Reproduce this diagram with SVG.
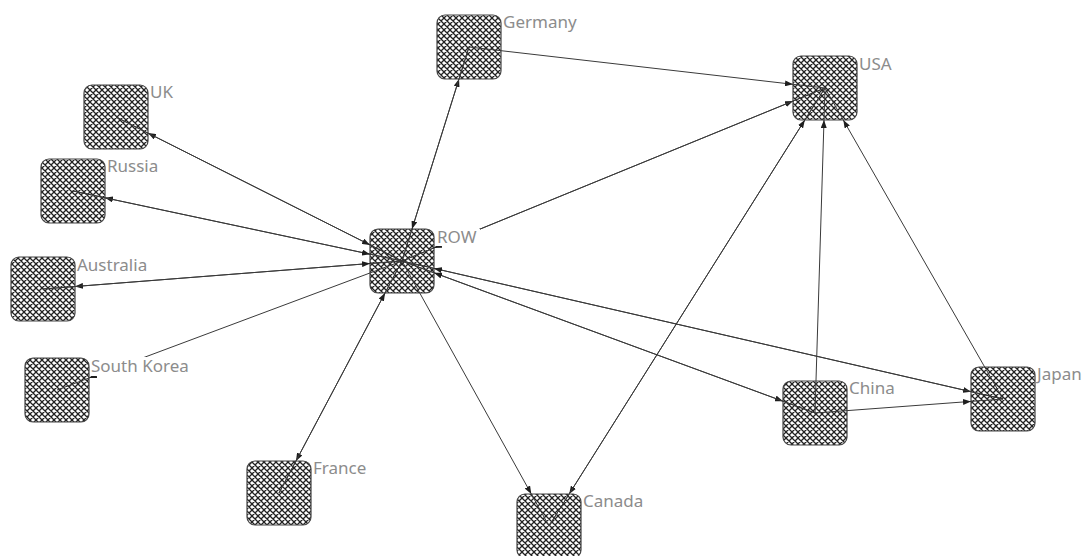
<svg xmlns="http://www.w3.org/2000/svg" width="1086" height="556" viewBox="0 0 1086 556">
  <style>
    .box { fill: url(#hatch); stroke: #444444; stroke-width: 1.2; }
    .label { font-family: "Noto Sans", "Liberation Sans", sans-serif; font-size: 17px; fill: #8c8c8c; }
    .edge { fill: none; stroke: #3a3a3a; stroke-width: 1; marker-mid: url(#arrow); }
  </style>
  <defs>
    <pattern id="hatch" patternUnits="userSpaceOnUse" width="6" height="6">
      <rect width="6" height="6" fill="#ffffff"/>
      <path d="M0,0 L6,6 M6,0 L0,6 M-1,5 L1,7 M5,-1 L7,1 M-1,1 L1,-1 M5,7 L7,5" stroke="#222222" stroke-width="1.3"/>
    </pattern>
    <marker id="arrow" viewBox="0 0 8 6" refX="8" refY="3" markerWidth="8" markerHeight="6" markerUnits="userSpaceOnUse" orient="auto">
      <path d="M0,0 L8,3 L0,6 Z" fill="#1e1e1e"/>
    </marker>
    <mask id="labelMask" maskUnits="userSpaceOnUse" x="0" y="0" width="1086" height="556">
      <rect x="0" y="0" width="1086" height="556" fill="#fff"/>
      <rect x="89" y="357" width="102" height="19" fill="#000"/>
      <rect x="436" y="229" width="44" height="17" fill="#000"/>
      <rect x="501" y="13" width="77" height="19" fill="#000"/>
      <rect x="857" y="55" width="37" height="19" fill="#000"/>
      <rect x="148" y="83" width="26" height="19" fill="#000"/>
      <rect x="105" y="157" width="55" height="19" fill="#000"/>
      <rect x="76" y="256" width="74" height="19" fill="#000"/>
      <rect x="311" y="459" width="58" height="19" fill="#000"/>
      <rect x="581" y="492" width="64" height="19" fill="#000"/>
      <rect x="847" y="379" width="49" height="19" fill="#000"/>
      <rect x="1035" y="365" width="49" height="19" fill="#000"/>
    </mask>
  </defs>
  <rect width="1086" height="556" fill="#ffffff"/>

  <g id="node-germany"><rect class="box" x="437" y="15" width="64" height="64" rx="8"/><text class="label" x="503" y="28">Germany</text></g>
  <g id="node-usa"><rect class="box" x="793" y="56" width="64" height="64" rx="8"/><text class="label" x="859" y="70">USA</text></g>
  <g id="node-uk"><rect class="box" x="84" y="85" width="64" height="64" rx="8"/><text class="label" x="150" y="98">UK</text></g>
  <g id="node-russia"><rect class="box" x="41" y="159" width="64" height="64" rx="8"/><text class="label" x="107" y="172">Russia</text></g>
  <g id="node-row"><rect class="box" x="370" y="229" width="64" height="64" rx="8"/><text class="label" x="437" y="243">ROW</text></g>
  <g id="node-australia"><rect class="box" x="11" y="257" width="64" height="64" rx="8"/><text class="label" x="77" y="271">Australia</text></g>
  <g id="node-south-korea"><rect class="box" x="25" y="358" width="64" height="64" rx="8"/><text class="label" x="91" y="372">South Korea</text></g>
  <g id="node-france"><rect class="box" x="247" y="461" width="64" height="64" rx="8"/><text class="label" x="313" y="474">France</text></g>
  <g id="node-canada"><rect class="box" x="517" y="494" width="64" height="64" rx="8"/><text class="label" x="583" y="507">Canada</text></g>
  <g id="node-china"><rect class="box" x="783" y="381" width="64" height="64" rx="8"/><text class="label" x="849" y="394">China</text></g>
  <g id="node-japan"><rect class="box" x="971" y="367" width="64" height="64" rx="8"/><text class="label" x="1037" y="380">Japan</text></g>

  <g id="connectors" mask="url(#labelMask)">
    <path class="edge" d="M402,261 L148,133.1 L116,117"/>
    <path class="edge" d="M116,117 L370,244.9 L402,261"/>
    <path class="edge" d="M402,261 L105,197.8 L73,191"/>
    <path class="edge" d="M73,191 L370,254.2 L402,261"/>
    <path class="edge" d="M402,261 L75,286.5 L43,289"/>
    <path class="edge" d="M43,289 L370,263.5 L402,261"/>
    <path class="edge" d="M402,261 L89,378 L57,390"/>
    <path class="edge" d="M402,261 L459,79 L469,47"/>
    <path class="edge" d="M469,47 L412,229 L402,261"/>
    <path class="edge" d="M469,47 L793,84.3 L825,88"/>
    <path class="edge" d="M402,261 L793,101.1 L825,88"/>
    <path class="edge" d="M825,88 L434,247.9 L402,261"/>
    <path class="edge" d="M402,261 L296,461 L279,493"/>
    <path class="edge" d="M279,493 L385,293 L402,261"/>
    <path class="edge" d="M402,261 L531.3,494 L549,526"/>
    <path class="edge" d="M825,88 L569.2,494 L549,526"/>
    <path class="edge" d="M549,526 L804.8,120 L825,88"/>
    <path class="edge" d="M402,261 L783,401.2 L815,413"/>
    <path class="edge" d="M815,413 L434,272.8 L402,261"/>
    <path class="edge" d="M402,261 L971,391.7 L1003,399"/>
    <path class="edge" d="M1003,399 L434,268.4 L402,261"/>
    <path class="edge" d="M815,413 L824,120 L825,88"/>
    <path class="edge" d="M815,413 L971,401.4 L1003,399"/>
    <path class="edge" d="M1003,399 L843.3,120 L825,88"/>
  </g>
</svg>
